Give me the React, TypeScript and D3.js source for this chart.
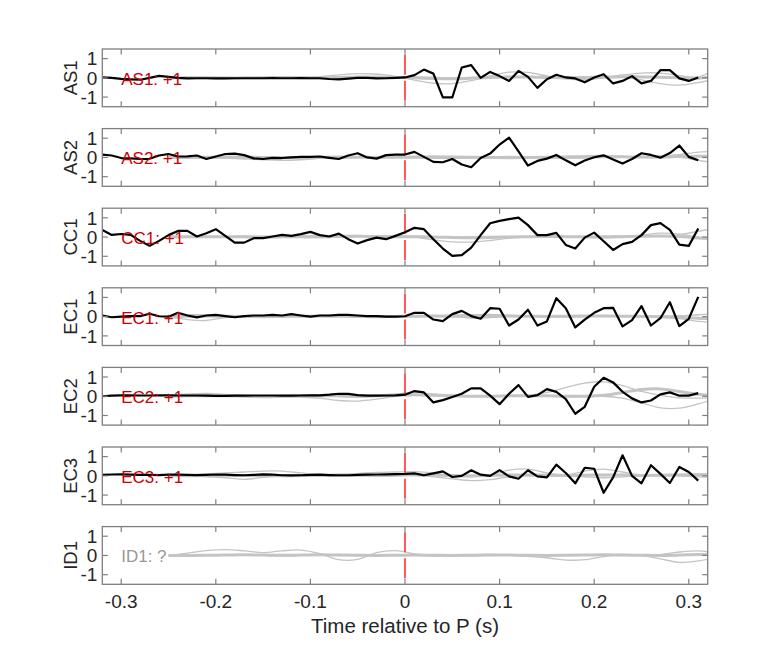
import React from "react";
import * as d3 from "d3";

// ---------- data ----------
const stations = ["AS1", "AS2", "CC1", "EC1", "EC2", "EC3", "ID1"];
const annotations = ["AS1: +1", "AS2: +1", "CC1: +1", "EC1: +1", "EC2: +1", "EC3: +1", "ID1: ?"];
const xTicks = [-0.3, -0.2, -0.1, 0, 0.1, 0.2, 0.3];
const yTicks = [-1, 0, 1];

// black traces sampled every 0.01 s from -0.32 to 0.31
const traceTimes = d3.range(64).map((i) => +(-0.32 + 0.01 * i).toFixed(2));
// gray traces sampled every 0.02 s from -0.25 to 0.33
const grayTimes = d3.range(30).map((i) => +(-0.25 + 0.02 * i).toFixed(2));

const traceAS1 = [0.02, 0.0, -0.05, -0.08, -0.1, 0.0, 0.1, 0.05, 0.0, -0.03, -0.02, -0.02, -0.03, -0.03, -0.02, -0.02,
  -0.02, -0.02, -0.01, -0.02, -0.02, -0.01, -0.02, -0.02, -0.06, -0.08, -0.04, 0.0, 0.0, -0.03, -0.02, 0.0,
  0.02, 0.14, 0.43, 0.22, -1.02, -1.02, 0.54, 0.66, 0.0, 0.31, 0.09, -0.16, 0.36, 0.05, -0.52, -0.07,
  0.16, 0.02, -0.03, -0.23, 0.02, 0.19, -0.29, -0.16, 0.09, -0.29, -0.16, 0.4, 0.4, -0.03, -0.16, 0.02];
const traceAS2 = [0.15, 0.1, -0.03, -0.05, -0.08, -0.07, 0.1, 0.18, 0.05, 0.06, 0.1, -0.08, 0.05, 0.18, 0.2, 0.12,
  -0.05, -0.08, -0.02, -0.03, 0.0, 0.03, 0.03, 0.05, -0.02, -0.08, 0.1, 0.22, 0.0, -0.06, 0.12, 0.15,
  0.15, 0.29, 0.03, -0.23, -0.25, -0.08, -0.37, -0.51, -0.03, 0.2, 0.67, 1.03, 0.32, -0.42, -0.18, -0.06,
  0.13, -0.15, -0.41, -0.16, 0.01, 0.11, -0.11, -0.32, -0.08, 0.22, 0.13, -0.01, 0.23, 0.62, 0.03, -0.15];
const traceCC1 = [0.37, 0.11, 0.16, 0.11, -0.2, -0.46, -0.2, 0.1, 0.32, 0.32, 0.03, 0.2, 0.41, 0.06, -0.29, -0.29,
  -0.06, -0.06, 0.03, 0.11, 0.06, 0.15, 0.27, 0.1, 0.03, 0.18, -0.11, -0.34, -0.16, -0.03, -0.11, 0.06,
  0.25, 0.48, 0.41, -0.11, -0.6, -0.98, -0.94, -0.55, 0.1, 0.72, 0.84, 0.93, 1.01, 0.62, 0.1, 0.1,
  0.22, -0.41, -0.6, -0.03, 0.23, -0.22, -0.67, -0.37, -0.25, 0.1, 0.62, 0.72, 0.37, -0.39, -0.46, 0.44];
const traceEC1 = [0.06, -0.03, 0.0, 0.03, 0.03, 0.15, 0.02, 0.0, 0.2, 0.06, -0.04, 0.06, 0.09, 0.03, -0.03, 0.03,
  0.06, 0.06, 0.09, 0.06, 0.13, 0.06, 0.0, 0.06, 0.06, 0.09, 0.09, 0.06, 0.03, 0.03, 0.0, 0.0,
  0.02, 0.2, 0.2, -0.15, -0.23, 0.13, 0.3, 0.03, -0.11, 0.44, 0.41, -0.46, -0.15, 0.36, -0.46, -0.25,
  0.96, 0.44, -0.56, -0.15, 0.2, 0.44, 0.46, -0.51, -0.18, 0.55, -0.46, -0.08, 0.75, -0.49, -0.11, 1.03];
const traceEC2 = [0.0, 0.03, 0.05, 0.05, 0.04, 0.04, 0.05, 0.05, 0.04, 0.04, 0.04, 0.03, 0.02, 0.02, 0.03, 0.03,
  0.04, 0.04, 0.04, 0.03, 0.03, 0.04, 0.05, 0.05, 0.08, 0.13, 0.12, 0.06, 0.03, 0.03, 0.04, 0.05,
  0.08, 0.27, 0.2, -0.32, -0.2, -0.04, 0.13, 0.41, 0.41, 0.03, -0.41, 0.13, 0.58, -0.03, 0.06, 0.37,
  0.23, -0.15, -0.91, -0.55, 0.49, 0.96, 0.72, 0.23, -0.11, -0.32, -0.22, 0.1, 0.2, 0.03, 0.03, 0.16];
const traceEC3 = [0.05, 0.07, 0.08, 0.06, 0.05, 0.05, 0.04, 0.06, 0.06, 0.05, 0.04, 0.05, 0.07, 0.06, 0.04, 0.03,
  0.05, 0.08, 0.06, 0.03, 0.02, 0.03, 0.05, 0.06, 0.04, 0.03, 0.03, 0.05, 0.06, 0.07, 0.08, 0.09,
  0.1, 0.13, 0.03, 0.13, 0.23, -0.06, 0.0, 0.29, 0.06, 0.0, 0.3, -0.03, -0.15, 0.29, -0.03, -0.08,
  0.58, 0.15, -0.39, 0.42, 0.37, -0.88, -0.08, 1.07, 0.0, -0.39, 0.55, 0.1, -0.37, 0.46, 0.2, -0.25];
const traceID1: number[] | null = null;

// gray (other polarity candidates), 30 samples each
const grayAS1 = [
  [0, 0.02, 0.03, 0.02, 0, -0.02, 0, 0.03, 0.06, 0.15, 0.22, 0.2, 0.08, -0.12, -0.28, -0.3, -0.15, 0.1, 0.3, 0.28, 0.1, -0.05, -0.1, 0, 0.15, 0.25, 0.25, 0.12, 0.05, 0.5],
  [0, -0.02, -0.03, -0.02, 0, 0.02, 0.01, -0.01, -0.03, -0.05, -0.02, 0.02, 0.04, 0.05, 0.03, 0, 0.02, 0.05, 0.08, 0.05, 0, -0.03, -0.05, 0, 0.02, -0.1, -0.3, -0.38, -0.25, -0.05],
  [0, 0.01, 0, -0.01, 0, 0.01, 0.02, 0.01, 0, 0.02, 0.05, 0.04, 0.02, 0, -0.03, -0.05, -0.02, 0.02, 0.05, 0.04, 0.02, 0, 0.02, 0.04, 0.06, 0.05, 0.03, 0.0, -0.02, 0.1],
];
const grayAS2 = [
  [0, 0.01, 0, -0.03, -0.08, -0.12, -0.15, -0.12, -0.05, 0, 0.02, 0.03, 0.02, 0, -0.02, 0, 0.02, 0.03, 0.05, 0.04, 0.02, 0.05, 0.08, 0.1, 0.05, 0.02, 0.05, 0.15, 0.28, 0.3],
  [0, -0.02, -0.03, -0.02, 0, 0.02, 0, -0.03, -0.05, -0.03, 0, 0.02, 0, -0.02, -0.04, -0.05, -0.03, 0, 0.02, 0, -0.02, -0.04, -0.03, 0, 0.02, 0, -0.02, 0, -0.15, -0.3],
  [0, 0, 0.01, 0.02, 0.01, 0, -0.01, 0, 0.01, 0.02, 0.01, 0, 0.01, 0.02, 0.03, 0.02, 0.01, 0, -0.01, 0, 0.01, 0.02, 0.03, 0.04, 0.03, 0.02, 0.03, 0.05, 0.06, 0.05],
];
const grayCC1 = [
  [0.05, 0.05, 0.03, 0, -0.02, -0.03, 0, 0.05, 0.08, 0.1, 0.08, 0.05, 0.05, 0, -0.15, -0.25, -0.26, -0.18, -0.06, 0, 0.03, 0.02, 0, -0.03, 0, 0.1, 0.2, 0.15, 0, -0.15],
  [0, -0.02, 0, 0.03, 0.05, 0.03, 0, -0.02, -0.03, 0, 0.03, 0.05, 0.08, 0.05, 0.02, 0, 0.02, 0.03, 0.02, 0, -0.02, 0, 0.03, 0.05, 0.05, 0.03, 0.05, 0.12, 0.3, 0.45],
  [0, 0.01, 0.02, 0.02, 0.01, 0, 0.01, 0.02, 0.02, 0.03, 0.04, 0.03, 0.02, 0.01, 0, -0.02, -0.03, -0.02, 0, 0.02, 0.03, 0.02, 0.01, 0, 0.02, 0.04, 0.05, 0.03, -0.05, -0.1],
];
const grayEC1 = [
  [0, -0.15, -0.2, -0.05, 0, 0.01, 0.02, 0.01, 0, 0.01, 0.02, 0.02, 0.01, 0, 0.02, 0.03, -0.08, -0.05, 0.02, 0.05, 0.03, 0, 0.02, 0.03, 0.02, 0.0, -0.03, -0.1, -0.25, -0.3],
  [0, 0.1, 0.08, 0.02, 0, -0.01, 0, 0.02, 0.03, 0.02, 0, -0.01, 0, 0.02, 0.05, 0.08, 0.1, 0.12, 0.08, 0.03, 0, -0.02, 0, 0.03, 0.05, 0.05, 0.03, 0.05, 0.1, 0.15],
  [0, 0.02, 0.03, 0.02, 0.01, 0, 0.01, 0.02, 0.03, 0.02, 0.01, 0, 0.01, 0.02, 0.03, 0.02, 0.02, 0.03, 0.03, 0.02, 0.01, 0.02, 0.03, 0.03, 0.02, 0.01, 0, -0.03, -0.08, -0.1],
];
const grayEC2 = [
  [0.05, 0.12, 0.15, 0.1, 0.03, 0, -0.02, 0, 0.03, -0.02, -0.05, 0.05, 0.12, 0.2, 0.12, 0.05, 0, -0.02, 0, 0.05, 0.2, 0.45, 0.68, 0.75, 0.55, 0.25, 0.05, -0.08, -0.1, -0.05],
  [0, 0, 0.02, 0.03, 0.02, 0, -0.03, -0.05, -0.1, -0.22, -0.25, -0.15, 0, 0.05, 0.03, 0, 0, 0, 0, 0, 0, -0.02, -0.03, 0, -0.1, -0.35, -0.6, -0.62, -0.4, -0.1],
  [0, 0.02, 0.03, 0.02, 0, -0.02, 0, 0.02, 0.03, 0.02, 0, 0.02, 0.05, 0.08, 0.05, 0.02, 0, 0, 0.02, 0.03, 0.02, 0, 0, 0.05, 0.2, 0.35, 0.38, 0.25, 0.1, 0.02],
];
const grayEC3 = [
  [0.02, 0.05, 0.1, 0.15, 0.2, 0.25, 0.25, 0.15, 0.05, 0.08, 0.12, 0.18, 0.2, 0.22, 0.15, 0, -0.05, 0.05, 0.3, 0.35, 0.15, 0.05, 0.25, 0.35, 0.2, 0.05, 0, 0.05, 0.1, 0.1],
  [0, 0, -0.05, -0.1, -0.18, -0.08, 0, 0.02, 0, -0.02, 0, 0.02, 0.03, 0.02, -0.05, -0.15, -0.25, -0.2, -0.05, 0, 0.02, 0, -0.05, -0.1, -0.05, 0, 0.02, 0, -0.05, -0.08],
  [0, 0.01, 0.02, 0.03, 0.02, 0.01, 0, 0.02, 0.03, 0.04, 0.03, 0.02, 0.03, 0.05, 0.04, 0.02, 0.01, 0.02, 0.04, 0.05, 0.03, 0.02, 0.03, 0.05, 0.04, 0.02, 0.03, 0.05, 0.05, 0.03],
];
const grayID1 = [
  [0, 0.12, 0.25, 0.3, 0.24, 0.15, 0.24, 0.28, 0.1, -0.22, -0.2, 0.15, 0.25, 0.08, -0.04, 0, 0.04, 0.05, 0.02, -0.02, 0, 0.02, 0, 0.02, 0.05, 0.03, 0.05, 0.18, 0.24, 0.12],
  [0, -0.02, 0, 0.03, 0.02, 0, -0.02, 0, 0.03, 0.02, 0, -0.02, 0.02, 0.05, 0.02, 0, -0.02, 0.04, 0.02, -0.05, -0.12, -0.24, -0.22, -0.06, 0.03, 0, -0.18, -0.36, -0.28, -0.12],
  [0, 0, 0.01, 0.02, 0.03, 0.02, 0.01, 0.02, 0.03, 0.02, 0.01, 0, 0.01, 0.02, 0.01, 0, 0.01, 0.02, 0.02, 0.01, 0, 0.01, 0.02, 0.03, 0.02, 0.01, 0, 0.02, 0.05, 0.04],
];

const traces = [traceAS1, traceAS2, traceCC1, traceEC1, traceEC2, traceEC3, traceID1];
const grays = [grayAS1, grayAS2, grayCC1, grayEC1, grayEC2, grayEC3, grayID1];

// ---------- layout ----------
const W = 782;
const H = 657;
const left = 102.3;
const right = 707.7;
const top0 = 49;
const step = 79.6;
const ph = 57.7;
const FONT = "'Liberation Sans', Arial, Helvetica, sans-serif";
const AXC = "#7f7f7f";
const TXT = "#262626";

export default function App() {
  const x = d3.scaleLinear().domain([-0.32, 0.32]).range([left, right]);
  const tickLen = 5.5;

  return (
    <svg width={W} height={H} style={{ position: "absolute", left: 0, top: 0, background: "#fff" }} fontFamily={FONT}>
      <defs>
        {stations.map((s, i) => (
          <clipPath id={`clip-${s}`} key={s}>
            <rect x={left} y={top0 + i * step} width={right - left} height={ph} />
          </clipPath>
        ))}
      </defs>
      {stations.map((s, i) => {
        const t = top0 + i * step;
        const y = d3.scaleLinear().domain([-1.5, 1.5]).range([t + ph, t]);
        const blackLine = d3.line<number>().x((_, k) => x(traceTimes[k])).y((v) => y(v));
        const grayLine = d3
          .line<number>()
          .x((_, k) => x(grayTimes[k]))
          .y((v) => y(v))
          .curve(d3.curveCatmullRom.alpha(0.5));
        const tr = traces[i];
        const isLast = i === stations.length - 1;
        return (
          <g key={s}>
            <g clipPath={`url(#clip-${s})`}>
              {grays[i].map((g, gi) => (
                <path
                  key={gi}
                  d={grayLine(g) || ""}
                  fill="none"
                  stroke="#c4c4c4"
                  strokeWidth={gi === 2 ? 3 : 1.3}
                />
              ))}
              <line
                x1={x(0)}
                x2={x(0)}
                y1={y(1.2)}
                y2={y(-1.2)}
                stroke="#ff3030"
                strokeWidth={1.6}
                strokeDasharray="20,6"
              />
              {tr && (
                <path d={blackLine(tr) || ""} fill="none" stroke="#000" strokeWidth={2.2} strokeLinejoin="round" />
              )}
            </g>
            <text x={x(-0.3)} y={y(0) + 7} fontSize={17} fill={tr ? "#cc0000" : "#999999"}>
              {annotations[i]}
            </text>
            <rect x={left} y={t} width={right - left} height={ph} fill="none" stroke={AXC} strokeWidth={1.3} />
            {xTicks.map((v) => (
              <g key={v}>
                <line x1={x(v)} x2={x(v)} y1={t + ph} y2={t + ph - tickLen} stroke={AXC} strokeWidth={1.2} />
                <line x1={x(v)} x2={x(v)} y1={t} y2={t + tickLen} stroke={AXC} strokeWidth={1.2} />
              </g>
            ))}
            {yTicks.map((v) => (
              <g key={v}>
                <line x1={left} x2={left + tickLen} y1={y(v)} y2={y(v)} stroke={AXC} strokeWidth={1.2} />
                <line x1={right} x2={right - tickLen} y1={y(v)} y2={y(v)} stroke={AXC} strokeWidth={1.2} />
                <text x={left - 5} y={y(v) + 6.8} textAnchor="end" fontSize={19} fill={TXT}>
                  {v === -1 ? "-1" : String(v)}
                </text>
              </g>
            ))}
            <text
              transform={`translate(${77},${t + ph / 2}) rotate(-90)`}
              textAnchor="middle"
              fontSize={18.5}
              fill={TXT}
            >
              {s}
            </text>
            {isLast &&
              xTicks.map((v) => (
                <text key={v} x={x(v)} y={t + ph + 24} textAnchor="middle" fontSize={19} fill={TXT}>
                  {v === 0 ? "0" : v < 0 ? `-${Math.abs(v)}` : String(v)}
                </text>
              ))}
            {isLast && (
              <text x={(left + right) / 2} y={t + ph + 49} textAnchor="middle" fontSize={20.5} fill={TXT}>
                Time relative to P (s)
              </text>
            )}
          </g>
        );
      })}
    </svg>
  );
}
